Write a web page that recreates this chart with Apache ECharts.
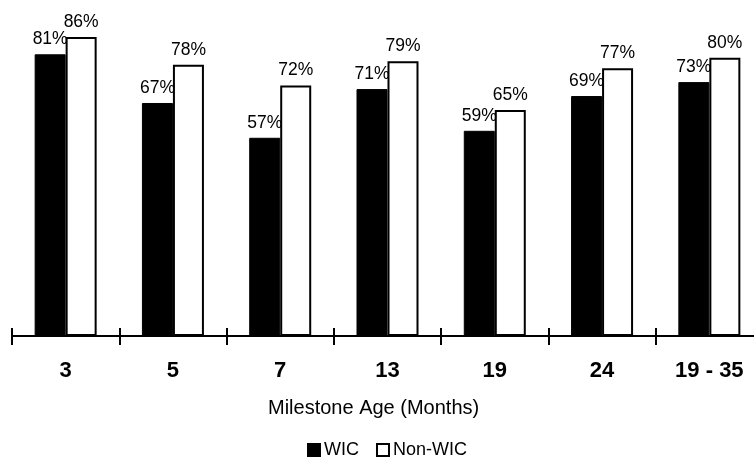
<!DOCTYPE html>
<html>
<head>
<meta charset="utf-8">
<script src="https://cdn.jsdelivr.net/npm/echarts@6/dist/echarts.min.js"></script>
<style>
  html, body { margin: 0; padding: 0; background: #fff; overflow: hidden; }
  /* the plot runs slightly past the right edge of the page */
  #chart { width: 763px; height: 461px; }
</style>
</head>
<body>
<div id="chart"></div>
<script>
// Milestone ages and percentages for the two groups
const categories = ['3', '5', '7', '13', '19', '24', '19 - 35'];
const wicValues = [81, 67, 57, 71, 59, 69, 73];
const nonWicValues = [86, 78, 72, 79, 65, 77, 80];
const seriesNames = ['WIC', 'Non-WIC'];
const axisTitle = 'Milestone Age (Months)';

const FONT = '"Liberation Sans", Arial, sans-serif';
const chart = echarts.init(document.getElementById('chart'));

const valueLabel = {
  show: true,
  position: 'top',
  distance: 6,
  formatter: '{c}%',
  color: '#000',
  fontFamily: FONT,
  fontSize: 17.5
};

chart.setOption({
  animation: false,
  backgroundColor: '#fff',
  grid: { left: 12, right: 0, top: 23, bottom: 125, containLabel: false },
  legend: {
    data: seriesNames,
    left: 307,
    top: 441,
    padding: 0,
    itemWidth: 12,
    itemHeight: 12,
    itemGap: 17,
    icon: 'rect',
    textStyle: { fontFamily: FONT, fontSize: 18, color: '#000', padding: [0, 0, 0, -1] }
  },
  xAxis: [
    {
      type: 'category',
      data: categories,
      position: 'bottom',
      axisLine: { show: true, lineStyle: { color: '#000', width: 2 } },
      axisTick: { show: true, length: 9, lineStyle: { color: '#000', width: 2 } },
      axisLabel: { margin: 24, color: '#000', fontFamily: FONT, fontSize: 22, fontWeight: 'bold' }
    },
    {
      // upward half of the crossing ticks
      type: 'category',
      data: categories,
      position: 'bottom',
      axisLine: { show: false },
      axisTick: { show: true, inside: true, length: 8, lineStyle: { color: '#000', width: 2 } },
      axisLabel: { show: false }
    }
  ],
  yAxis: {
    type: 'value',
    min: 0,
    max: 90,
    show: false,
    splitLine: { show: false }
  },
  series: [
    {
      name: seriesNames[0],
      type: 'bar',
      data: wicValues,
      barWidth: 31,
      barGap: '0%',
      itemStyle: { color: '#000', borderColor: '#000', borderWidth: 1 },
      label: valueLabel
    },
    {
      name: seriesNames[1],
      type: 'bar',
      data: nonWicValues,
      barWidth: 31,
      barGap: '0%',
      itemStyle: { color: '#fff', borderColor: '#000', borderWidth: 2 },
      label: valueLabel
    }
  ],
  graphic: [
    {
      type: 'text',
      left: 268,
      top: 398,
      style: { text: axisTitle, fill: '#000', font: '20px ' + FONT }
    }
  ]
});
</script>
</body>
</html>
